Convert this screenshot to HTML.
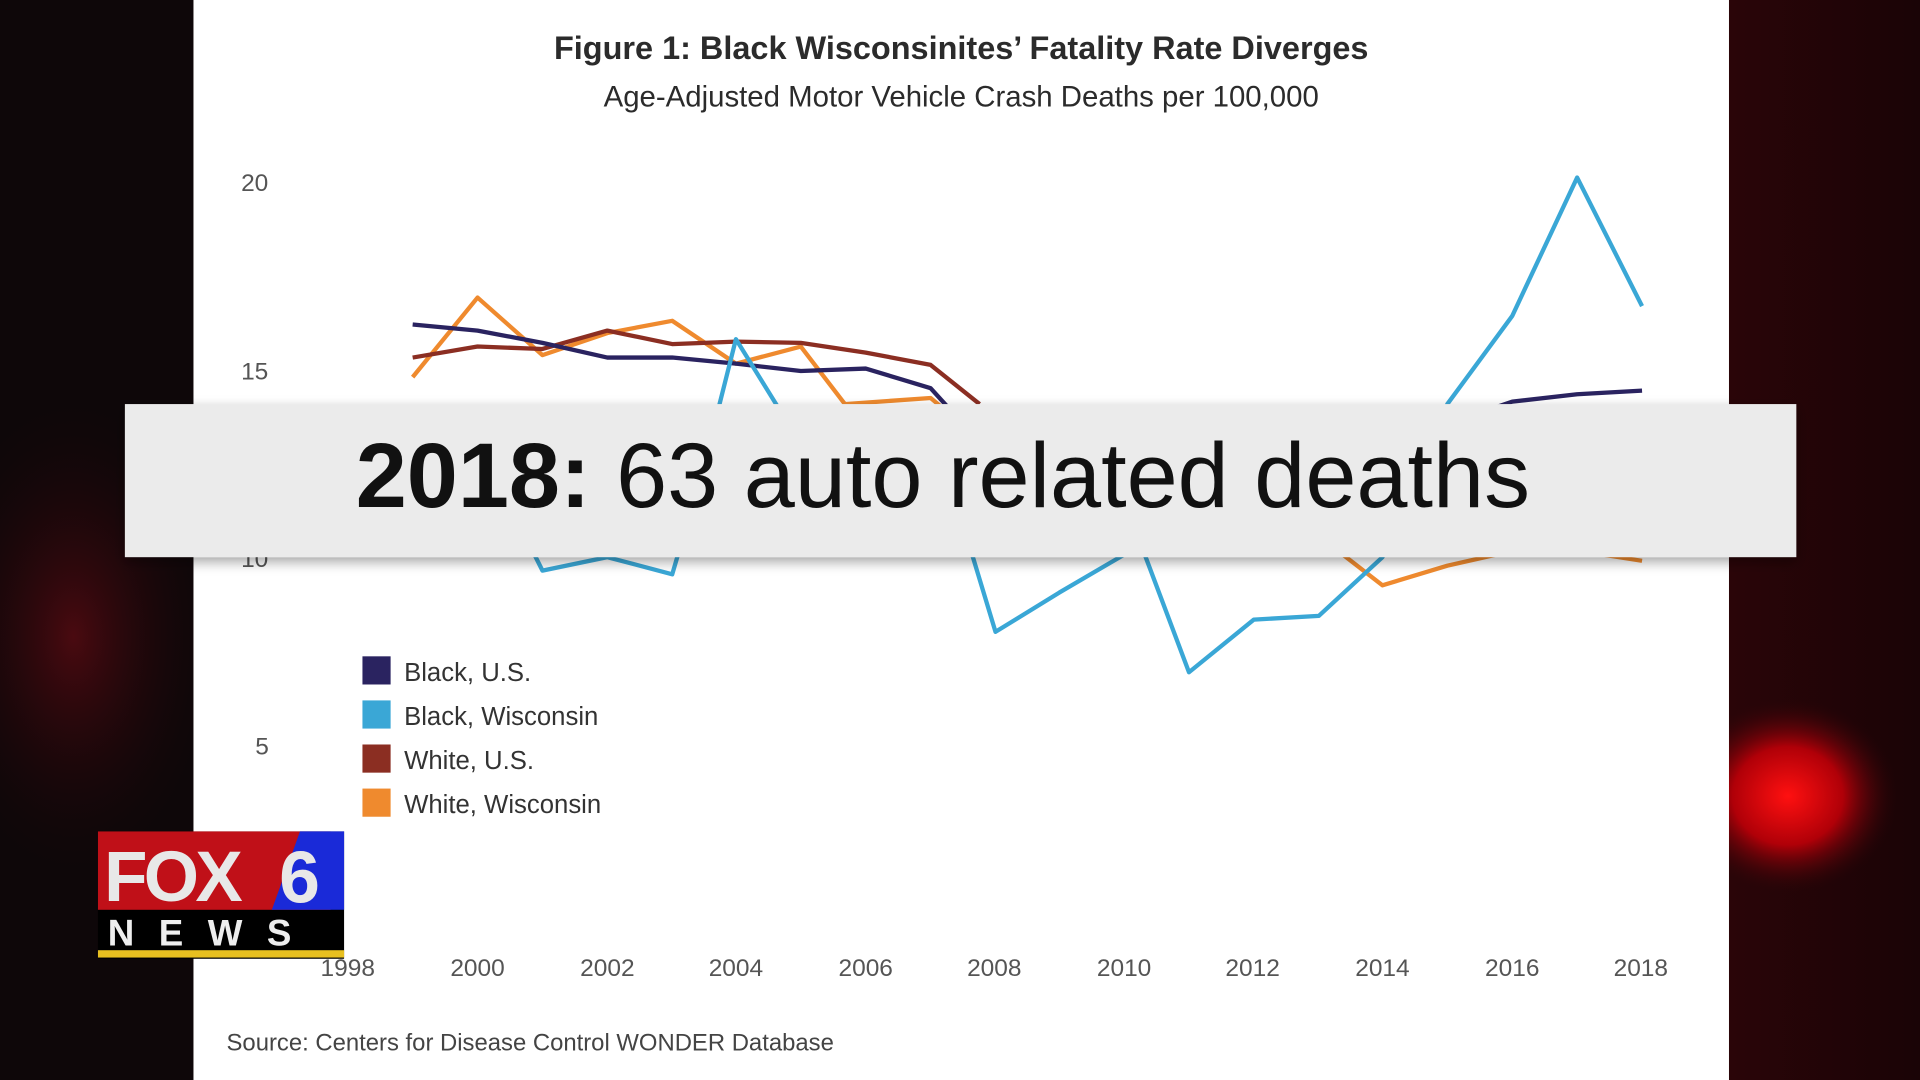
<!DOCTYPE html>
<html><head><meta charset="utf-8"><style>
html,body{margin:0;padding:0;width:1920px;height:1080px;overflow:hidden;background:#0d0608}
svg{display:block}
</style></head><body>
<svg width="1920" height="1080" viewBox="0 0 1568 882" preserveAspectRatio="none" xmlns="http://www.w3.org/2000/svg">
<defs>
<radialGradient id="rg" cx="0.5" cy="0.5" r="0.5"><stop offset="0" stop-color="#ff1010"/><stop offset="0.5" stop-color="#b00008"/><stop offset="1" stop-color="#2a0508" stop-opacity="0"/></radialGradient>
<radialGradient id="lg" cx="0.5" cy="0.5" r="0.5"><stop offset="0" stop-color="#4a0a10"/><stop offset="1" stop-color="#120508" stop-opacity="0"/></radialGradient>
<linearGradient id="rb" x1="0" x2="1"><stop offset="0" stop-color="#2a0508"/><stop offset="1" stop-color="#1a0406"/></linearGradient>
<filter id="sh" x="-5%" y="-20%" width="110%" height="150%"><feDropShadow dx="0" dy="4" stdDeviation="5" flood-color="#000" flood-opacity="0.35"/></filter>
</defs>
<rect x="0" y="0" width="158" height="882" fill="#0e0709"/>
<ellipse cx="60" cy="520" rx="120" ry="200" fill="url(#lg)"/>
<rect x="1412" y="0" width="156" height="882" fill="url(#rb)"/>
<ellipse cx="1460" cy="650" rx="90" ry="80" fill="url(#rg)"/>
<rect x="158" y="0" width="1254" height="882" fill="#ffffff"/>
<g font-family="Liberation Sans, sans-serif" fill="#333">
<text x="785" y="48" text-anchor="middle" font-size="26.5" font-weight="bold" fill="#2b2b2b">Figure 1: Black Wisconsinites’ Fatality Rate Diverges</text>
<text x="785" y="87" text-anchor="middle" font-size="24" fill="#2b2b2b">Age-Adjusted Motor Vehicle Crash Deaths per 100,000</text>
<g font-size="20" text-anchor="middle" fill="#555">
<text x="208" y="156">20</text><text x="208" y="310">15</text><text x="208" y="463">10</text><text x="214" y="616">5</text>
<text x="284" y="797">1998</text><text x="390" y="797">2000</text><text x="496" y="797">2002</text><text x="601" y="797">2004</text><text x="707" y="797">2006</text><text x="812" y="797">2008</text><text x="918" y="797">2010</text><text x="1023" y="797">2012</text><text x="1129" y="797">2014</text><text x="1235" y="797">2016</text><text x="1340" y="797">2018</text>
</g>
</g>
<g fill="none" stroke-width="3.5" stroke-linejoin="round">
<polyline stroke="#ef8a2e" points="337,308 390,243 443,290 496,272 549,262 601,297 654,283 690,330 760,325 790,350"/>
<polyline stroke="#8b2e22" points="337,292 390,283 443,285 496,270 549,281 601,279 654,280 707,288 760,298 800,330"/>
<polyline stroke="#2a2360" points="337,265 390,270 443,280 496,292 549,292 601,297 654,303 707,301 760,317 790,350"/>
<polyline stroke="#ef8a2e" points="1080,440 1129,478 1182,462 1235,450 1290,450 1341,458"/>
<polyline stroke="#2a2360" points="1200,340 1235,328 1288,322 1341,319"/>
<polyline stroke="#3aa7d6" points="420,420 443,466 496,455 549,469 575,380 601,277 640,340"/>
<polyline stroke="#3aa7d6" points="790,440 813,516 865,484 918,453 930,440 971,549 1024,506 1077,503 1129,455 1182,330 1235,258 1288,145 1341,250"/>
</g>
<g filter="url(#sh)"><rect x="102" y="330" width="1365" height="125" fill="#ebebeb"/></g>
<text x="770" y="414" text-anchor="middle" font-family="Liberation Sans, sans-serif" font-size="75" fill="#111"><tspan font-weight="bold">2018:</tspan> 63 auto related deaths</text>
<g font-family="Liberation Sans, sans-serif" font-size="21" fill="#333">
<rect x="296" y="536" width="23" height="23" fill="#2a2360"/><text x="330" y="556">Black, U.S.</text>
<rect x="296" y="572" width="23" height="23" fill="#3aa7d6"/><text x="330" y="592">Black, Wisconsin</text>
<rect x="296" y="608" width="23" height="23" fill="#8b2e22"/><text x="330" y="628">White, U.S.</text>
<rect x="296" y="644" width="23" height="23" fill="#ef8a2e"/><text x="330" y="664">White, Wisconsin</text>
<text x="185" y="858" font-size="19.5" fill="#444">Source: Centers for Disease Control WONDER Database</text>
</g>
<g font-family="Liberation Sans, sans-serif" font-weight="bold">
<rect x="80" y="679" width="201" height="104" fill="#000"/>
<rect x="80" y="679" width="190" height="64" fill="#c01018"/>
<polygon points="245,679 281,679 281,743 222,743" fill="#1a2ad8"/>
<text x="85" y="736" font-size="58" fill="#e8e8e8" letter-spacing="-3">FOX</text>
<text x="228" y="737" font-size="60" fill="#e8e8e8">6</text>
<text x="88" y="772" font-size="30" fill="#eee" letter-spacing="20">NEWS</text>
<rect x="80" y="776" width="201" height="6" fill="#e8c020"/>
</g>
</svg>
</body></html>
